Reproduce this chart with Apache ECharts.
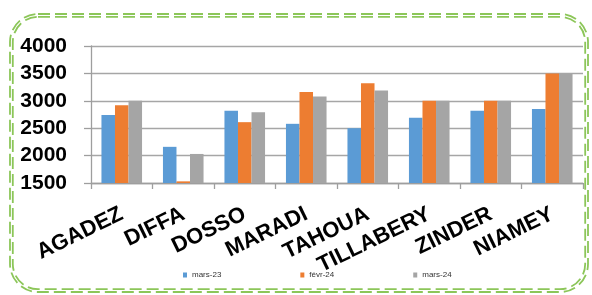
<!DOCTYPE html>
<html><head><meta charset="utf-8">
<script src="https://cdn.jsdelivr.net/npm/echarts@6/dist/echarts.min.js"></script>
<style>html,body{margin:0;padding:0;background:#fff}#c{width:592px;height:295px}</style>
</head><body><div id="c"></div>
<script>
const categories = ['AGADEZ','DIFFA','DOSSO','MARADI','TAHOUA','TILLABERY','ZINDER','NIAMEY'];
const seriesNames = ['mars-23','févr-24','mars-24'];
const mars23 = [2740, 2160, 2820, 2580, 2500, 2690, 2820, 2850];
const fevr24 = [2920, 1530, 2610, 3160, 3320, 3000, 3000, 3500];
const mars24 = [3000, 2030, 2790, 3080, 3190, 3000, 3000, 3500];
const colors = ['#5b9bd5','#ed7d31','#a5a5a5'];

const chart = echarts.init(document.getElementById('c'), null, {renderer:'canvas'});
const border = (off) => ({
  type:'rect', silent:true, z:100,
  shape:{x:10+off, y:14+off, width:578-2*off, height:278-2*off, r:28-off},
  style:{fill:'none', stroke:'#8cc659', lineWidth:1.8, lineDash:[12,5]}
});
chart.setOption({
  animation:false,
  color: colors,
  grid:{left:91, right:9, top:46, bottom:112, containLabel:false},
  graphic:[border(0), border(2.8)],
  legend:{
    top:266, left:178, itemWidth:4, itemHeight:5, itemGap:79,
    icon:'rect',
    textStyle:{fontSize:8, color:'#333', fontFamily:'Liberation Sans, Arial'},
    data: seriesNames
  },
  xAxis:{
    type:'category', data:categories,
    axisLine:{lineStyle:{color:'#9e9e9e', width:1.3}},
    axisTick:{show:true, length:6, lineStyle:{color:'#9e9e9e', width:1.3}},
    axisLabel:{rotate:26, interval:0, margin:30, color:'#000', fontWeight:'bold', fontSize:22, fontFamily:'Liberation Sans, Arial'}
  },
  yAxis:{
    type:'value', min:1500, max:4000, interval:500,
    axisLine:{show:true, lineStyle:{color:'#9e9e9e', width:1.3}},
    axisTick:{show:true, length:7, lineStyle:{color:'#9e9e9e', width:1.3}},
    splitLine:{lineStyle:{color:'#a6a6a6', width:1.3}},
    axisLabel:{color:'#000', fontWeight:'bold', fontSize:21, margin:24, fontFamily:'Liberation Sans, Arial',
      formatter: v => String(v)}
  },
  series:[
    {name:seriesNames[0], type:'bar', data:mars23, barGap:'0%', barCategoryGap:'34%'},
    {name:seriesNames[1], type:'bar', data:fevr24, barGap:'0%', barCategoryGap:'34%'},
    {name:seriesNames[2], type:'bar', data:mars24, barGap:'0%', barCategoryGap:'34%'}
  ]
});
</script></body></html>
